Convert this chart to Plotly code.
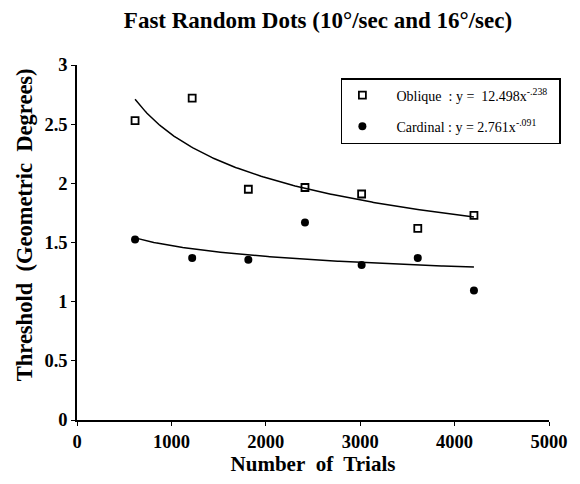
import numpy as np
import plotly.graph_objects as go

trials = [615, 1220, 1815, 2415, 3015, 3610, 4205]
oblique = [2.53, 2.72, 1.95, 1.965, 1.91, 1.62, 1.73]
cardinal = [1.525, 1.37, 1.355, 1.67, 1.31, 1.37, 1.095]

# power-law fits printed in the legend
obl_a, obl_b = 12.498, -0.238
card_a, card_b = 2.761, -0.091

x_ticks = [0, 1000, 2000, 3000, 4000, 5000]
y_ticks = [0, 0.5, 1, 1.5, 2, 2.5, 3]
y_tick_text = ["0", "0.5", "1", "1.5", "2", "2.5", "3"]

xf = np.linspace(trials[0], trials[-1], 200)
SERIF = "Liberation Serif, Times New Roman, serif"
NB = "\u00a0"

fig = go.Figure()
fig.add_trace(go.Scatter(x=xf, y=obl_a * xf ** obl_b, mode="lines",
                         line=dict(color="black", width=1.5), showlegend=False, hoverinfo="skip"))
fig.add_trace(go.Scatter(x=xf, y=card_a * xf ** card_b, mode="lines",
                         line=dict(color="black", width=1.5), showlegend=False, hoverinfo="skip"))
fig.add_trace(go.Scatter(x=trials, y=oblique, mode="markers",
                         name=NB * 4 + "Oblique" + NB * 2 + ": y =" + NB * 2 + "12.498x<sup>-.238</sup>" + NB * 2,
                         legendgroup="a",
                         marker=dict(symbol="square-open", size=7, color="black", line=dict(width=1.8))))
fig.add_trace(go.Scatter(x=trials, y=cardinal, mode="markers",
                         name=NB * 4 + "Cardinal : y = 2.761x<sup>-.091</sup>" + NB * 2,
                         legendgroup="b",
                         marker=dict(symbol="circle", size=8, color="black")))

fig.update_layout(
    width=580, height=484,
    margin=dict(l=77, r=29, t=65, b=64),
    paper_bgcolor="white", plot_bgcolor="white",
    font=dict(family=SERIF, color="black"),
    title=dict(text="<b>Fast Random Dots (10°/sec and 16°/sec)</b>",
               font=dict(size=23, family=SERIF, color="black"),
               x=318 / 580, xanchor="center", xref="container",
               y=1 - 20 / 484, yanchor="middle", yref="container"),
    xaxis=dict(range=[0, 5000], tickvals=x_ticks, ticktext=[f"<b>{v}</b>" for v in x_ticks],
               showgrid=False, zeroline=False, showline=True, linecolor="black", linewidth=1.5,
               ticks="outside", ticklen=4, tickcolor="black", tickwidth=1,
               tickfont=dict(size=18.5, family=SERIF),
               title=dict(text="<b>Number" + NB + " of" + NB + " Trials</b>",
                          font=dict(size=21, family=SERIF), standoff=2)),
    yaxis=dict(range=[0, 3], tickvals=y_ticks, ticktext=[f"<b>{t}</b>" for t in y_tick_text],
               showgrid=False, zeroline=False, showline=True, linecolor="black", linewidth=1.5,
               ticks="outside", ticklen=4, tickcolor="black", tickwidth=1,
               tickfont=dict(size=18.5, family=SERIF)),
    legend=dict(x=(342 - 77) / 474, y=(420 - 78) / 355, xanchor="left", yanchor="top",
                bgcolor="white", bordercolor="black", borderwidth=1.5,
                font=dict(size=14, family=SERIF, color="black"),
                tracegroupgap=10, itemwidth=30),
    annotations=[dict(text="<b>Threshold" + NB + " (Geometric" + NB + " Degrees)</b>",
                      textangle=-90, xref="paper", yref="paper",
                      x=(25 - 77) / 474, y=(420 - 225) / 355,
                      xanchor="center", yanchor="middle", showarrow=False,
                      font=dict(size=22.5, family=SERIF, color="black"))],
)

fig.write_html("out.html", config={"displayModeBar": False},
               post_script="document.body.style.margin='0';")
